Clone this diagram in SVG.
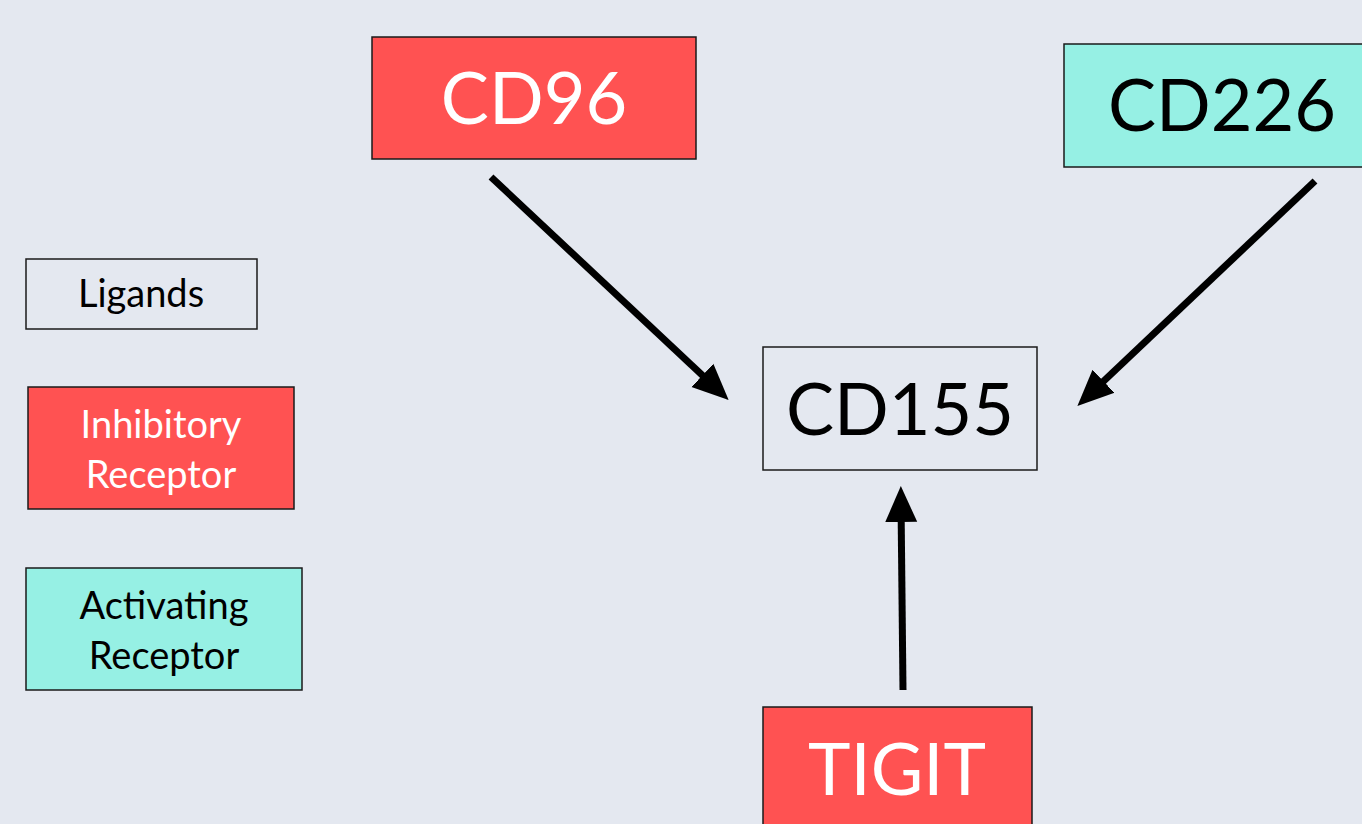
<svg xmlns="http://www.w3.org/2000/svg" width="1362" height="824" viewBox="0 0 1362 824">
<defs>
<style>
.box{stroke:#1a1a1a;stroke-width:1.5}
.red{fill:#FF5252}
.teal{fill:#96F0E4}
.lig{fill:none}
text{font-family:Lato,"Open Sans","Liberation Sans",sans-serif;text-anchor:middle}
.big{font-size:72px}
.small{font-size:38px}
.w{fill:#ffffff}
.k{fill:#000000}
.conn{stroke:#000;stroke-width:7;fill:none;marker-end:url(#ah)}
</style>
<marker id="ah" markerUnits="userSpaceOnUse" markerWidth="40" markerHeight="40" viewBox="0 0 40 40" refX="20" refY="20" orient="auto">
<path d="M0,4 L36,20 L0,36 Z" fill="#000"/>
</marker>
</defs>
<rect width="1362" height="824" fill="#E4E8F0"/>
<g id="connectors">
<line class="conn" x1="491" y1="177" x2="717" y2="389"/>
<line class="conn" x1="1315" y1="181" x2="1089" y2="395"/>
<line class="conn" x1="903" y1="690" x2="901" y2="502"/>
</g>
<g id="cd96">
<rect class="box red" x="372" y="37" width="324" height="122"/>
<text class="big w" x="534" y="124">CD96</text>
</g>
<g id="cd226">
<rect class="box teal" x="1064" y="44" width="310" height="123"/>
<text class="big k" x="1222" y="131">CD226</text>
</g>
<g id="cd155">
<rect class="box lig" x="763" y="347" width="274" height="123"/>
<text class="big k" x="900" y="435">CD155</text>
</g>
<g id="tigit">
<rect class="box red" x="763" y="707" width="269" height="130"/>
<text class="big w" x="897" y="795">TIGIT</text>
</g>
<g id="legend-ligands">
<rect class="box lig" x="26" y="259" width="231" height="70"/>
<text class="small k" x="141" y="307">Ligands</text>
</g>
<g id="legend-inhibitory">
<rect class="box red" x="28" y="387" width="266" height="122"/>
<text class="small w" x="161" y="438">Inhibitory</text>
<text class="small w" x="161" y="488">Receptor</text>
</g>
<g id="legend-activating">
<rect class="box teal" x="26" y="568" width="276" height="122"/>
<text class="small k" x="164" y="619">Activating</text>
<text class="small k" x="164" y="669">Receptor</text>
</g>
</svg>
